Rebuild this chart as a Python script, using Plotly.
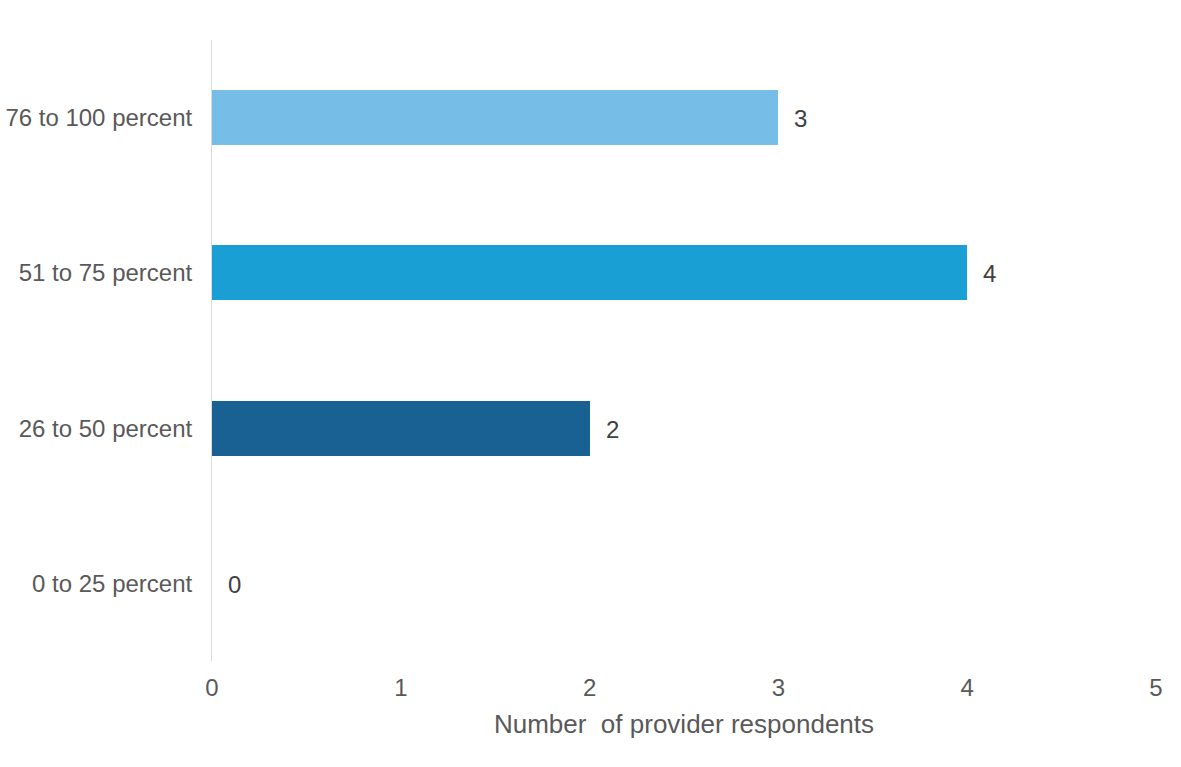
import plotly.graph_objects as go

# Share of work bands and how many providers reported each
categories = ["0 to 25 percent", "26 to 50 percent", "51 to 75 percent", "76 to 100 percent"]
respondents = [0, 2, 4, 3]
bar_colors = ["#1A6193", "#1A6193", "#199FD3", "#76BDE8"]
x_ticks = [0, 1, 2, 3, 4, 5]

fig = go.Figure()
fig.add_trace(go.Bar(
    x=respondents,
    y=categories,
    orientation="h",
    marker=dict(color=bar_colors, line=dict(width=0)),
    width=0.355,
    hoverinfo="x+y",
))

# Value labels placed just right of each bar end
for cat, val in zip(categories, respondents):
    fig.add_annotation(
        x=val, y=cat, text=str(val), showarrow=False,
        xanchor="left", yanchor="middle", xshift=14, yshift=-1,
        font=dict(family="Liberation Sans, Arial", size=24, color="#404040"),
    )

fig.update_layout(
    width=1181, height=767,
    margin=dict(l=212, r=25, t=40, b=106),
    paper_bgcolor="white", plot_bgcolor="white",
    showlegend=False,
    bargap=0,
    font=dict(family="Liberation Sans, Arial", color="#595959", size=24),
)
fig.update_xaxes(
    range=[0, 5], tickvals=x_ticks, showgrid=False, zeroline=False,
    showline=False, ticks="", ticklabelstandoff=10, automargin=False,
    tickfont=dict(size=24, color="#595959"),
    title=dict(text="Number  of provider respondents", standoff=14,
               font=dict(size=26, color="#595959")),
)
fig.update_yaxes(
    categoryorder="array", categoryarray=categories, range=[-0.5, 3.5],
    showgrid=False, zeroline=False, showline=True, linecolor="#D9D9D9",
    linewidth=1, ticks="", ticklabelstandoff=14, automargin=False,
    tickfont=dict(size=24, color="#595959"),
)

fig.write_html("out.html")
